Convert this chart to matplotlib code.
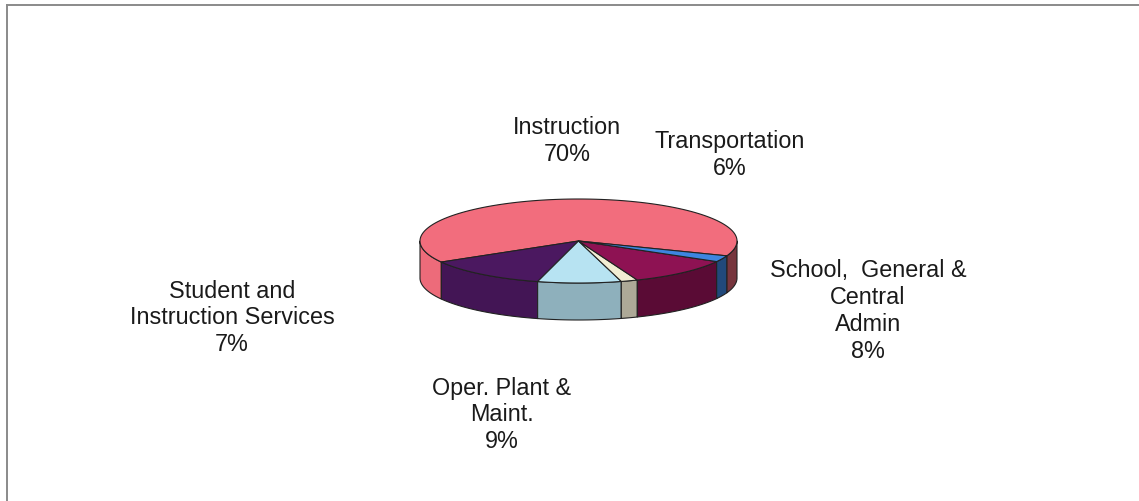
import numpy as np
import matplotlib
matplotlib.use("Agg")
import matplotlib.pyplot as plt
from matplotlib.patches import Polygon
from matplotlib.colors import to_rgb

# slices as drawn, counter-clockwise starting at the Instruction slice
slice_names = ["Instruction", "Student and Instruction Services", "Oper. Plant & Maint.",
               "Other", "School, General & Central Admin", "Transportation"]
slice_share = [64.1, 12.5, 8.5, 1.7, 10.8, 2.4]
slice_colors = ["#F26D7D", "#4B1860", "#B7E3F2", "#F2EDD3", "#8E1253", "#3D86E0"]

# data labels shown around the pie
label_texts = ["Instruction\n70%", "Transportation\n6%", "School,  General &\nCentral\nAdmin\n8%",
               "Oper. Plant &\nMaint.\n9%", "Student and\nInstruction Services\n7%"]
label_pos = [(567, 141), (730, 155), (868, 311), (502, 415), (232, 318)]

plt.rcParams["font.family"] = ["Liberation Sans", "DejaVu Sans"]

W, H = 1139, 502
fig = plt.figure(figsize=(W / 100, H / 100), dpi=100)
ax = fig.add_axes([0, 0, 1, 1])
ax.set_xlim(0, W)
ax.set_ylim(H, 0)
ax.axis("off")

# frame (only top and left edges show in the crop)
ax.plot([6.5, W], [5.5, 5.5], color="#8a8a8a", lw=1.4)
ax.plot([6.5, 6.5], [5.5, H], color="#8a8a8a", lw=1.4)

cx, cy, rx, ry, depth = 578.5, 242, 158.5, 42, 37
start = -20.7


def ell(t):
    r = np.radians(t)
    return cx + rx * np.cos(r), cy - ry * np.sin(r)


def shade(col, t):
    # light comes from the left, right side of the pie is darker
    f = 1.0 - 0.55 * ((t - 180) / 180) ** 1.3
    return tuple(np.clip(np.array(to_rgb(col)) * f, 0, 1))


bounds = start + np.concatenate([[0], np.cumsum(slice_share)]) * 3.6

# sides (front half only, 180..360 deg)
for i, col in enumerate(slice_colors):
    a, b = bounds[i], bounds[i + 1]
    for off in (0, 360, -360):
        lo, hi = max(a + off, 180), min(b + off, 360)
        if hi <= lo:
            continue
        t = np.linspace(lo, hi, 60)
        x, y = ell(t)
        pts = np.vstack([np.column_stack([x, y]),
                         np.column_stack([x[::-1], y[::-1] + depth])])
        ax.add_patch(Polygon(pts, closed=True, fc=shade(col, (lo + hi) / 2),
                             ec="#222222", lw=0.8, joinstyle="round"))

# top faces
for i, col in enumerate(slice_colors):
    t = np.linspace(bounds[i], bounds[i + 1], 200)
    x, y = ell(t)
    pts = np.vstack([[cx, cy], np.column_stack([x, y])])
    ax.add_patch(Polygon(pts, closed=True, fc=col, ec="#222222", lw=0.8,
                         joinstyle="round"))

for txt, (x, y) in zip(label_texts, label_pos):
    ax.text(x, y, txt, ha="center", va="center", multialignment="center",
            fontsize=16.8, linespacing=1.22, color="#1a1a1a")

plt.savefig("out.png", dpi=100)
